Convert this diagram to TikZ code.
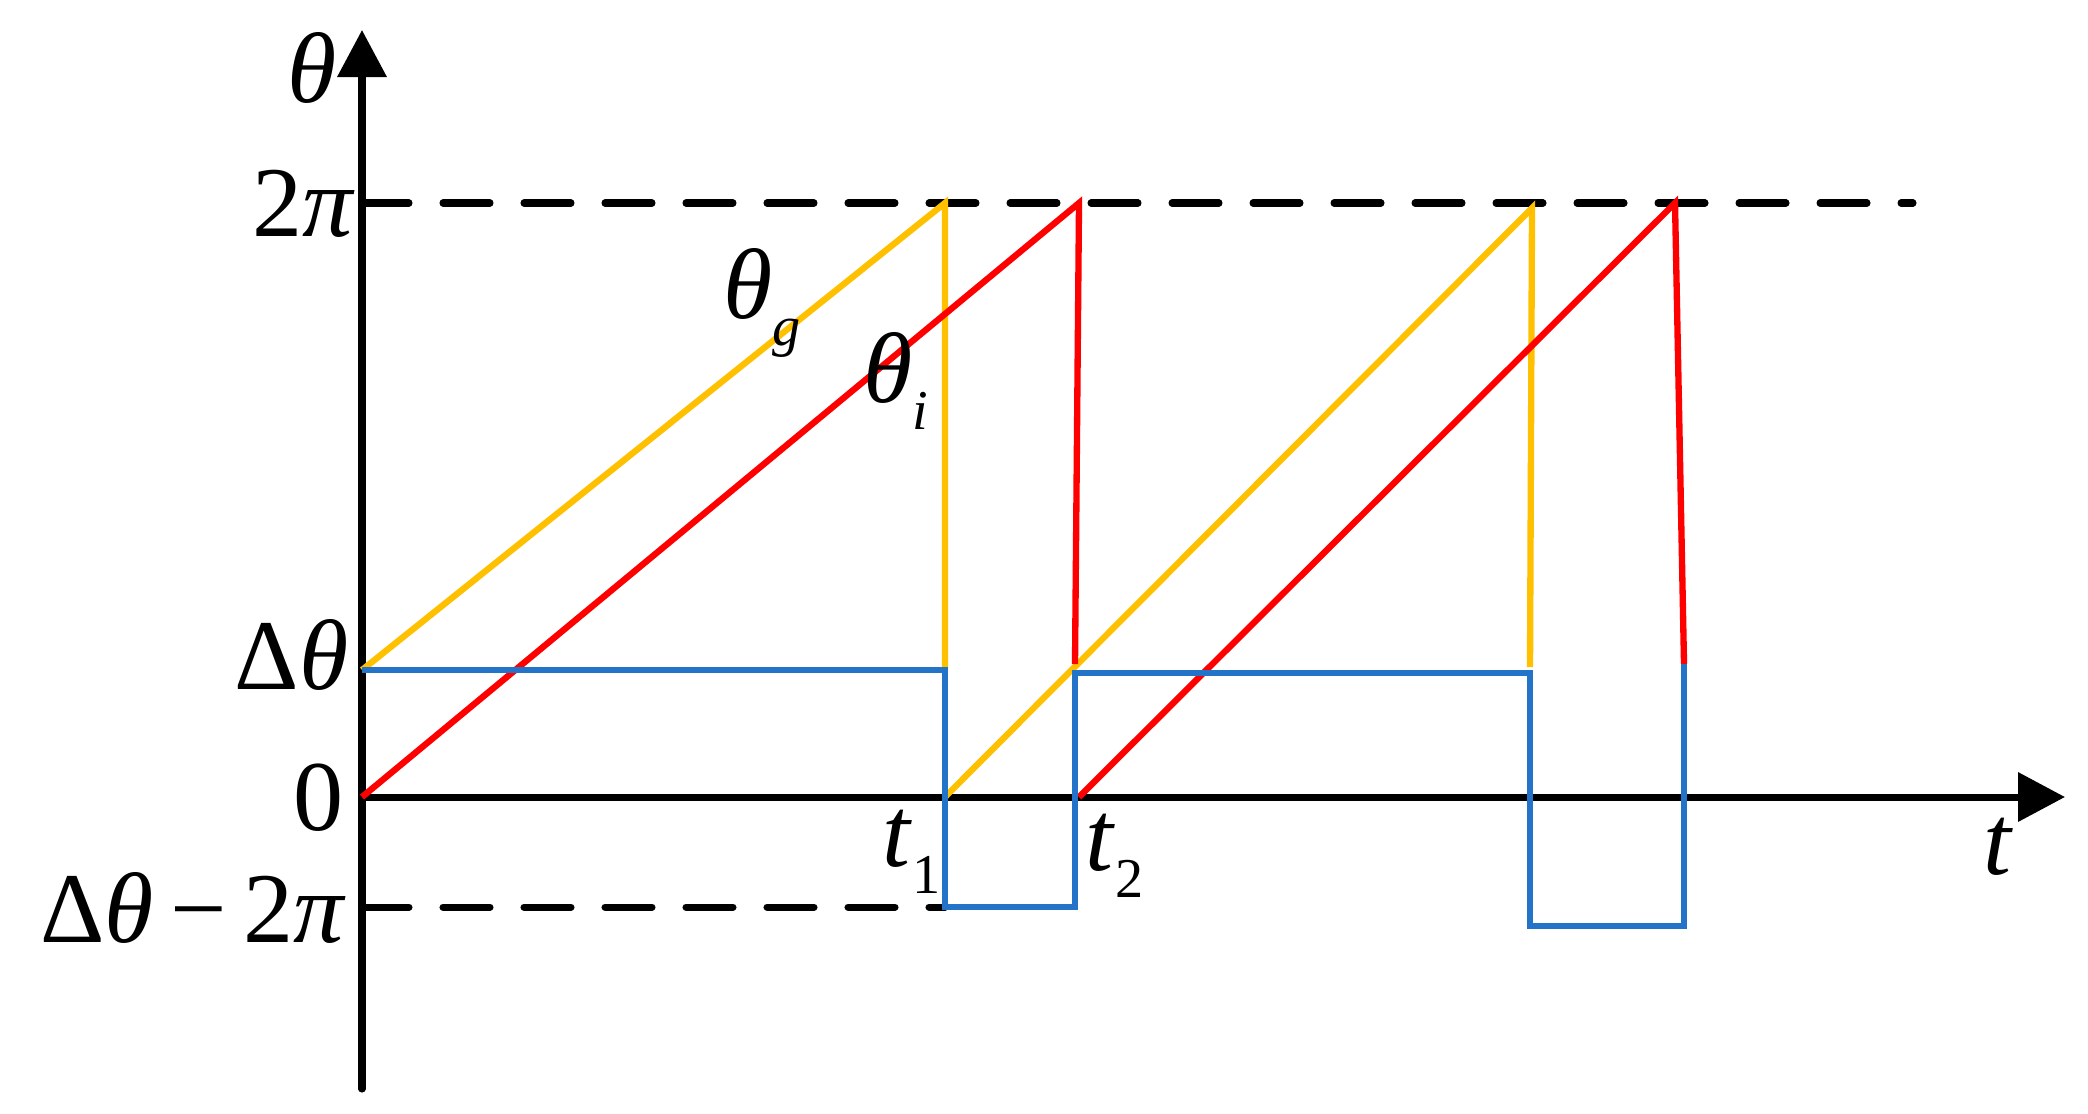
\documentclass[tikz,border=0pt]{standalone}
\usepackage{fontspec}
\setmainfont{Liberation Serif}
\usetikzlibrary{arrows.meta}
\definecolor{gcolor}{RGB}{255,192,0}
\definecolor{icolor}{RGB}{255,0,0}
\definecolor{dcolor}{RGB}{35,115,200}
\newcommand{\lsub}[1]{\raisebox{-0.27em}{\fontsize{16}{16}\selectfont #1}}

\begin{document}
\begin{tikzpicture}[
  axis/.style={line width=2pt, -{Triangle[length=0.47cm,width=0.48cm]}},
  level/.style={line width=2pt, line cap=round, dash pattern=on 0.47cm off 0.34cm},
  wave/.style={line width=1.8pt},
  lab/.style={inner sep=0pt, font=\fontsize{28.5}{30}\selectfont}]
\useasboundingbox (-3.62,-3.16) rectangle (17.26,7.97);
% axes
\draw[axis, line cap=round] (0,-2.92) -- (0,7.67);
\draw[axis] (0,0) -- (17.03,0);
\node[lab, anchor=base east] (ltheta) at (-0.25,6.95) {\textit{θ}};
\node[lab, anchor=base west] (lt) at (16.21,-0.77) {\textit{t}};
% levels
\draw[level] (0,5.94) -- (15.51,5.94);
\draw[level] (0,-1.10) -- (5.83,-1.10);
\node[lab, anchor=base east] (ltwopi) at (-0.06,5.61) {2\textit{π}};
\node[lab, anchor=base east] (ldelta) at (-0.13,1.08) {Δ\textit{θ}};
\node[lab, anchor=base east] (lzero) at (-0.18,-0.33) {0};
\node[lab, anchor=base east] (ldm) at (-0.15,-1.45) {Δ\textit{θ}\,−\,2\textit{π}};
% theta_g
\draw[wave, gcolor] (0,1.27) -- (5.83,5.94) -- (5.83,1.27);
\draw[wave, gcolor] (5.83,0) -- (11.70,5.89) -- (11.68,1.30);
% theta_i
\draw[wave, icolor] (0,0) -- (7.17,5.94) -- (7.13,1.33);
\draw[wave, icolor] (7.17,0) -- (13.13,5.94) -- (13.22,1.33);
% difference
\draw[wave, dcolor] (0,1.27) -- (5.83,1.27) -- (5.83,-1.10) -- (7.13,-1.10)
  -- (7.13,1.24) -- (11.68,1.24) -- (11.68,-1.29) -- (13.22,-1.29) -- (13.22,1.33);
% labels
\node[lab, anchor=base west] (lg) at (3.61,4.79) {\textit{θ}\lsub{\textit{g}}};
\node[lab, anchor=base west] (li) at (5.01,3.95) {\textit{θ}\lsub{\textit{i}}};
\node[lab, anchor=base west] (lt1) at (5.20,-0.69) {\textit{t}\lsub{1}};
\node[lab, anchor=base west] (lt2) at (7.23,-0.73) {\textit{t}\lsub{2}};
\end{tikzpicture}
\end{document}
